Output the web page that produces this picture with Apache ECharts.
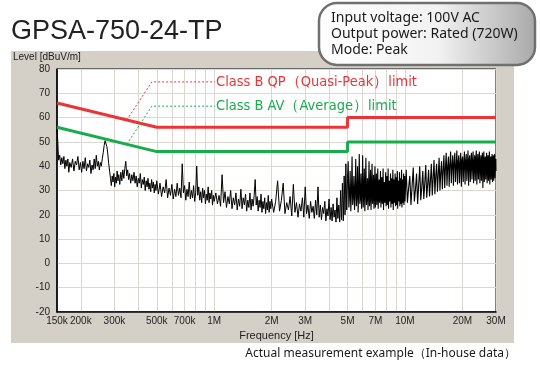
<!DOCTYPE html>
<html><head><meta charset="utf-8">
<script src="https://cdn.jsdelivr.net/npm/echarts@6/dist/echarts.min.js"></script>
<style>html,body{margin:0;padding:0;background:#fff}#c{width:540px;height:377px}</style>
</head><body><div id="c"></div>
<script>
const title = 'GPSA-750-24-TP';
const infoLines = ['Input voltage: 100V AC', 'Output power: Rated (720W)', 'Mode: Peak'];
const yAxisName = 'Level [dBuV/m]';
const xAxisName = 'Frequency [Hz]';
const footnote = 'Actual measurement example（In-house data）';
const qpLabel = 'Class B QP（Quasi-Peak）limit';
const avLabel = 'Class B AV（Average）limit';

// frequencies in MHz
const xTickValues = [0.15, 0.2, 0.3, 0.5, 0.7, 1, 2, 3, 5, 7, 10, 20, 30];
const xTickLabels = ['150k', '200k', '300k', '500k', '700k', '1M', '2M', '3M', '5M', '7M', '10M', '20M', '30M'];
const xGridValues = [0.2, 0.3, 0.4, 0.5, 0.6, 0.7, 0.8, 0.9, 1, 2, 3, 4, 5, 6, 7, 8, 9, 10, 20, 30];

const qpLimit = [[0.15, 66], [0.5, 56], [5, 56], [5, 60], [30, 60]];
const avLimit = [[0.15, 56], [0.5, 46], [5, 46], [5, 50], [30, 50]];
const qpLeader = [[0.348, 59], [0.471, 74.7], [1.01, 74.7]];
const avLeader = [[0.348, 49], [0.471, 64.7], [1.01, 64.7]];

// measured peak trace [MHz, dBuV/m], 150 kHz - 5 MHz
const traceLow = [
[0.150,55.5],[0.151,52],[0.152,47],[0.153,42.5],[0.155,44.5],[0.157,40.5],[0.159,43.5],[0.161,41],[0.163,44],[0.165,39],
[0.167,42.5],[0.169,40],[0.171,43],[0.173,37.5],[0.175,41.5],[0.178,39.5],[0.181,43],[0.184,38],[0.187,42],[0.190,40.5],
[0.193,44],[0.196,38.5],[0.199,41.5],[0.202,37.5],[0.205,42],[0.208,39],[0.211,43.5],[0.214,38],[0.217,41],[0.220,39.5],
[0.223,42.5],[0.226,37],[0.229,40.5],[0.232,38.5],[0.235,43],[0.238,39],[0.241,44.5],[0.244,40],[0.247,42],[0.250,38.5],
[0.253,41.5],[0.256,40],[0.259,43],[0.262,45.5],[0.265,48.5],[0.268,50.5],[0.271,50],[0.274,48],[0.277,45],[0.280,41],
[0.283,38],[0.286,35],[0.289,32],[0.292,36],[0.295,33.5],[0.298,37],[0.301,31.5],[0.304,35.5],[0.307,33],[0.310,38],
[0.313,34],[0.316,36.5],[0.320,32.5],[0.324,37.5],[0.328,34],[0.332,38.5],[0.336,35],[0.340,39],[0.344,42],[0.348,36],
[0.352,38.5],[0.356,34.5],[0.360,37],[0.365,33],[0.370,36.5],[0.375,34],[0.380,37.5],[0.385,33],[0.390,36],[0.395,31.5],
[0.400,35],[0.405,33],[0.410,37],[0.415,31],[0.420,34.5],[0.425,32.5],[0.430,35.5],[0.435,30],[0.440,34],[0.445,31.5],
[0.450,35],[0.455,30.5],[0.460,33],[0.465,29.5],[0.470,34.5],[0.475,31],[0.480,33.5],[0.485,29],[0.490,32.5],[0.495,30],
[0.500,34],[0.51,28.5],[0.52,33],[0.53,27.5],[0.54,31.5],[0.55,29],[0.56,34.5],[0.57,27],[0.58,31],[0.59,28],
[0.60,32.5],[0.61,26.5],[0.62,30.5],[0.63,27.5],[0.64,33],[0.65,28],[0.66,31],[0.67,27],[0.68,41],[0.69,29],
[0.70,32],[0.71,26],[0.72,30.5],[0.73,27.5],[0.74,33.5],[0.75,26.5],[0.76,30],[0.77,27],[0.78,32],[0.79,25.5],
[0.80,29],[0.81,40],[0.82,28],[0.83,31.5],[0.84,26],[0.85,29.5],[0.86,25],[0.87,31],[0.88,27],[0.89,30],
[0.90,24.5],[0.91,28.5],[0.92,26],[0.93,31.5],[0.94,25],[0.95,29],[0.96,26.5],[0.97,30],[0.98,24],[0.99,28],
[1.00,25.5],[1.02,29],[1.04,24.5],[1.06,28],[1.08,23.5],[1.10,36.5],[1.12,25],[1.14,29.5],[1.16,23],[1.18,27.5],
[1.20,24.5],[1.22,30],[1.24,22.5],[1.26,27],[1.28,24],[1.30,29],[1.32,22],[1.34,26.5],[1.36,23.5],[1.38,30.5],
[1.40,22.5],[1.42,27],[1.44,24],[1.46,28.5],[1.48,21.5],[1.50,26],[1.52,23],[1.54,29],[1.56,22],[1.58,26.5],
[1.60,23.5],[1.62,28],[1.64,34.5],[1.66,24],[1.68,27.5],[1.70,21.5],[1.72,26],[1.74,23],[1.76,28.5],[1.78,21],
[1.80,25.5],[1.82,22.5],[1.84,27],[1.86,20.5],[1.88,25],[1.90,22],[1.92,28],[1.94,21],[1.96,25.5],[1.98,22.5],
[2.00,26.5],[2.05,21],[2.10,25.5],[2.15,34],[2.20,21.5],[2.25,26],[2.30,33],[2.35,20.5],[2.40,25],[2.45,22],
[2.50,27.5],[2.55,19.5],[2.60,32.5],[2.65,21],[2.70,25],[2.75,19],[2.80,24.5],[2.85,21.5],[2.90,27],[2.95,19],
[3.00,31.5],[3.05,20.5],[3.10,24],[3.15,18.5],[3.20,25.5],[3.25,21],[3.30,23.5],[3.35,18.5],[3.40,26],[3.45,20],
[3.50,31.5],[3.55,19],[3.60,24],[3.65,18],[3.70,23],[3.75,20.5],[3.80,25.5],[3.85,17.5],[3.90,22.5],[3.95,19.5],
[4.00,26.5],[4.05,18],[4.10,23],[4.15,17.5],[4.20,24.5],[4.25,19],[4.30,22],[4.35,17],[4.40,27],[4.45,18.5],
[4.50,24],[4.55,17],[4.60,30],[4.65,18],[4.70,33],[4.75,17.5],[4.80,36],[4.85,20],[4.90,41],[4.95,22],[5.00,35]
];
// measured peak trace [MHz, dBuV/m], 5 MHz - 30 MHz
const traceHigh = [
[5.00,35],
[5.04,42],[5.08,23],[5.12,28],[5.16,38],[5.20,21.5],[5.24,29],[5.28,44],[5.32,24],[5.36,27.5],
[5.40,36],[5.44,22],[5.48,29.5],[5.52,43],[5.56,23.5],[5.60,28],[5.64,40],[5.68,21],[5.72,30],
[5.76,45],[5.80,24.5],[5.84,27],[5.88,37],[5.92,22.5],[5.96,29],[6.00,44.5],[6.04,23],[6.08,28.5],
[6.12,39],[6.16,21.5],[6.20,30],[6.24,43.5],[6.28,24],[6.32,27.5],[6.36,35],[6.40,22],[6.44,29.5],
[6.48,42],[6.52,23.5],[6.56,28],[6.60,38.5],[6.64,22],[6.68,30.5],[6.72,41],[6.76,24.5],[6.80,28],
[6.84,36.5],[6.88,22.5],[6.92,29],[6.96,40],[7.00,23],[7.04,30],[7.08,37],[7.12,24],[7.16,29],
[7.20,39],[7.24,22.5],[7.28,31],[7.32,34.5],[7.36,25],[7.40,29.5],[7.44,38],[7.48,23],[7.52,31.5],
[7.56,35.5],[7.60,24.5],[7.64,30],[7.68,39],[7.72,22],[7.76,31],[7.80,33.5],[7.84,25],[7.88,29.5],
[7.92,37.5],[7.96,23.5],[8.00,31.5],[8.04,36],[8.08,24],[8.12,30],[8.16,39],[8.20,22.5],[8.24,31],
[8.28,34],[8.32,25.5],[8.36,29.5],[8.40,37],[8.44,23],[8.48,32],[8.52,35],[8.56,24.5],[8.60,30.5],
[8.64,38.5],[8.68,22],[8.72,31.5],[8.76,34.5],[8.80,25],[8.84,30],[8.88,37],[8.92,23.5],[8.96,32],
[9.00,35.5],[9.04,24],[9.08,30.5],[9.12,38],[9.16,22.5],[9.20,31.5],[9.24,34],[9.28,25.5],[9.32,30],
[9.36,37.5],[9.40,23.5],[9.44,32],[9.48,35],[9.52,24.5],[9.56,31],[9.60,38.5],[9.64,23],[9.68,32.5],
[9.72,34.5],[9.76,25],[9.80,30.5],[9.84,37],[9.88,24],[9.92,32],[9.96,36],[10.00,25.5],
[10.15,38.5],[10.30,25],[10.45,31],[10.60,36],[10.75,24],[10.90,32],[11.05,39.5],[11.20,25.5],[11.35,30.5],
[11.50,37],[11.65,24.5],[11.80,32.5],[11.95,40],[12.10,26],[12.25,31.5],[12.40,38],[12.55,26.5],[12.70,33],
[12.85,40.5],[13.00,27],[13.15,32.5],[13.30,38.5],[13.45,27.5],[13.60,34],[13.75,41],[13.90,28],[14.05,35],
[14.20,42.5],[14.35,28.5],[14.50,36],[14.65,41],[14.80,29.5],[14.95,37],[15.10,43.5],[15.25,30],[15.40,37.5],
[15.55,42],[15.70,30.5],[15.85,38.5],[16.00,44.5],[16.15,31],[16.30,39.5],[16.45,45.5],[16.60,32],[16.75,40],
[16.90,44],[17.05,31.5],[17.20,41],[17.35,46],[17.50,33],[17.65,40.5],[17.80,44.5],[17.95,32],[18.10,41.5],
[18.25,45.5],[18.40,33.5],[18.55,40],[18.70,46.5],[18.85,32.5],[19.00,42],[19.15,44.5],[19.30,33],[19.45,41],
[19.60,45.5],[19.75,31.5],[19.90,42.5],[20.05,44],[20.20,33.5],[20.35,41.5],[20.50,46],[20.65,32.5],[20.80,42],
[20.95,45],[21.10,34],[21.25,41],[21.40,46.5],[21.55,32],[21.70,42.5],[21.85,44.5],[22.00,33.5],[22.15,41.5],
[22.30,45.5],[22.45,34.5],[22.60,42],[22.75,46],[22.90,33],[23.05,41],[23.20,44.5],[23.35,34],[23.50,42.5],
[23.65,46.5],[23.80,32.5],[23.95,41.5],[24.10,45],[24.25,34.5],[24.40,42],[24.55,46],[24.70,33],[24.85,41],
[25.00,44.5],[25.15,34],[25.30,42.5],[25.45,45.5],[25.60,31],[25.75,41.5],[25.90,46],[26.05,33.5],[26.20,42],
[26.35,44],[26.50,34.5],[26.65,41],[26.80,45.5],[26.95,33],[27.10,42.5],[27.25,44.5],[27.40,34],[27.55,41.5],
[27.70,46],[27.85,32.5],[28.00,42],[28.15,44],[28.30,34.5],[28.45,41],[28.60,45],[28.75,33.5],[28.90,42],
[29.05,44.5],[29.20,34],[29.35,41.5],[29.50,45],[29.65,35],[29.80,40.5],[29.95,43],[30.00,38]
];

const RED = '#ec3438';
const GREEN = '#17ad4c';
const GRID = '#dcd8d0';
const LABEL_FONT = 'Liberation Sans, Arial, sans-serif';
const NOTE_FONT = 'Liberation Sans Narrow, DejaVu Sans Condensed, Arial, sans-serif';

function tickLabel(v) {
  for (let i = 0; i < xTickValues.length; i++) {
    if (Math.abs(v - xTickValues[i]) / xTickValues[i] < 1e-6) return xTickLabels[i];
  }
  return '';
}
function leaderSeries(pts, text, color) {
  return {
    type: 'line', data: pts, symbol: 'none', z: 5,
    lineStyle: { color: color, width: 1, type: [2, 2] },
    endLabel: { show: true, formatter: text, color: color, fontSize: 14.5, distance: 1, fontFamily: NOTE_FONT }
  };
}

const chart = echarts.init(document.getElementById('c'), null, { renderer: 'canvas' });
chart.setOption({
  animation: false,
  backgroundColor: '#ffffff',
  grid: { left: 57, right: 44, top: 69, bottom: 65, show: true, backgroundColor: '#ffffff', borderColor: '#000', borderWidth: 1 },
  xAxis: {
    type: 'log', logBase: 10, min: 0.15, max: 30,
    axisLine: { show: true, onZero: false, lineStyle: { color: '#000', width: 1.5 } },
    axisTick: { show: false, customValues: xGridValues },
    minorTick: { show: false }, minorSplitLine: { show: false },
    splitLine: { show: true, lineStyle: { color: GRID, width: 1 } },
    axisLabel: { customValues: xTickValues, formatter: tickLabel, color: '#222', fontSize: 10, margin: 4, fontFamily: LABEL_FONT },
    name: xAxisName, nameLocation: 'middle', nameGap: 16,
    nameTextStyle: { color: '#222', fontSize: 11, fontFamily: LABEL_FONT }
  },
  yAxis: {
    type: 'value', min: -20, max: 80, interval: 10,
    axisLine: { show: true, onZero: false, lineStyle: { color: '#000', width: 1.5 } },
    axisTick: { show: false },
    splitLine: { show: true, lineStyle: { color: GRID, width: 1 } },
    axisLabel: { color: '#222', fontSize: 10, margin: 7, fontFamily: LABEL_FONT }
  },
  series: [
    { type: 'line', data: traceLow, symbol: 'none', lineStyle: { color: '#000', width: 1 }, z: 3 },
    { type: 'line', data: traceHigh, symbol: 'none', lineStyle: { color: '#000', width: 1.1 }, z: 3 },
    { type: 'line', data: qpLimit, symbol: 'none', lineStyle: { color: RED, width: 3 }, z: 4 },
    { type: 'line', data: avLimit, symbol: 'none', lineStyle: { color: GREEN, width: 3 }, z: 4 },
    leaderSeries(qpLeader, qpLabel, RED),
    leaderSeries(avLeader, avLabel, GREEN)
  ],
  graphic: [
    { type: 'rect', z: -10, shape: { x: 11, y: 51, width: 503, height: 292 }, style: { fill: '#d4d0c8' } },
    { type: 'text', x: 11, y: 45, style: { text: title, fontSize: 27, fontFamily: LABEL_FONT, fill: '#222', textVerticalAlign: 'bottom' } },
    { type: 'text', x: 13, y: 57, style: { text: yAxisName, fontSize: 10, fontFamily: LABEL_FONT, fill: '#222', textVerticalAlign: 'middle' } },
    { type: 'rect', z: 20, shape: { x: 319, y: 3, width: 216, height: 62, r: 18 },
      style: { fill: { type: 'linear', x: 0, y: 0, x2: 1, y2: 0, colorStops: [
        { offset: 0, color: '#ffffff' }, { offset: 0.55, color: '#f2f2f2' }, { offset: 1, color: '#a9a9a9' } ] },
        stroke: '#707070', lineWidth: 2.5 } },
    { type: 'text', z: 21, x: 331, y: 18, style: { text: infoLines[0], fontSize: 14, fontFamily: 'Noto Sans, sans-serif', fill: '#1a1a1a', textVerticalAlign: 'middle' } },
    { type: 'text', z: 21, x: 331, y: 34, style: { text: infoLines[1], fontSize: 14, fontFamily: 'Noto Sans, sans-serif', fill: '#1a1a1a', textVerticalAlign: 'middle' } },
    { type: 'text', z: 21, x: 331, y: 50.5, style: { text: infoLines[2], fontSize: 14, fontFamily: 'Noto Sans, sans-serif', fill: '#1a1a1a', textVerticalAlign: 'middle' } },
    { type: 'text', x: 516, y: 354, style: { text: footnote, fontSize: 12, fontFamily: 'Noto Sans, sans-serif', fill: '#1a1a1a', textAlign: 'right', textVerticalAlign: 'middle' } }
  ]
});
</script></body></html>
